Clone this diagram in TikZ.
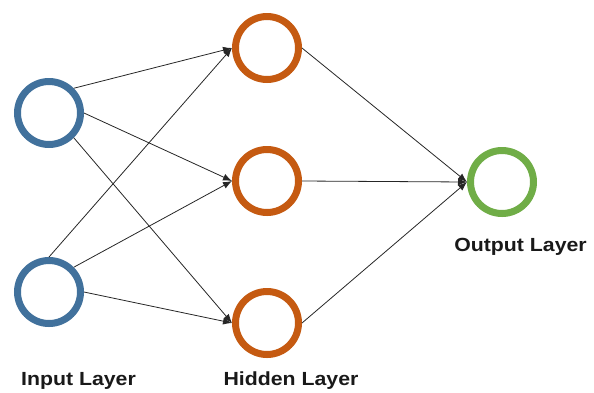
\documentclass[tikz,border=0pt]{standalone}
\usepackage{fontspec}
\setmainfont{Liberation Sans}
\newfontfamily\labelfont[FakeStretch=1.12]{Liberation Sans}
\usetikzlibrary{arrows.meta}
\definecolor{inblue}{RGB}{65,113,156}
\definecolor{hidorange}{RGB}{197,90,17}
\definecolor{outgreen}{RGB}{112,173,71}
\tikzset{
  neuron/.style={circle, draw=#1, line width=7pt, minimum size=63pt, inner sep=0pt, fill=white},
  link/.style={line width=0.8pt, draw=black!85, -{Latex[length=9pt,width=7pt]}},
  layerlabel/.style={font=\labelfont\bfseries\fontsize{19}{21}\selectfont, text=black!90, anchor=base, inner sep=0pt}
}
\begin{document}
\begin{tikzpicture}[x=1pt, y=-1pt]
  \useasboundingbox (0,0) rectangle (594,392);
  % input layer
  \node[neuron=inblue] (i1) at (49,113) {};
  \node[neuron=inblue] (i2) at (49,292) {};
  % hidden layer
  \node[neuron=hidorange] (h1) at (267,48) {};
  \node[neuron=hidorange] (h2) at (267,181) {};
  \node[neuron=hidorange] (h3) at (267,323) {};
  % output layer
  \node[neuron=outgreen] (o) at (502,182) {};
  % connections input -> hidden
  \draw[link] (i1.north east) -- (h1.west);
  \draw[link] (i1.east) -- (h2.west);
  \draw[link] (i1.south east) -- (h3.west);
  \draw[link] (i2.north) -- (h1.west);
  \draw[link] (i2.north east) -- (h2.west);
  \draw[link] (i2.east) -- (h3.west);
  % connections hidden -> output
  \draw[link] (h1.east) -- (o.west);
  \draw[link] (h2.east) -- (o.west);
  \draw[link] (h3.east) -- (o.west);
  % labels
  \node[layerlabel] (lin) at (78.5,385) {Input Layer};
  \node[layerlabel] (lhid) at (291,385) {Hidden Layer};
  \node[layerlabel] (lout) at (520.5,251) {Output Layer};
\end{tikzpicture}
\end{document}
